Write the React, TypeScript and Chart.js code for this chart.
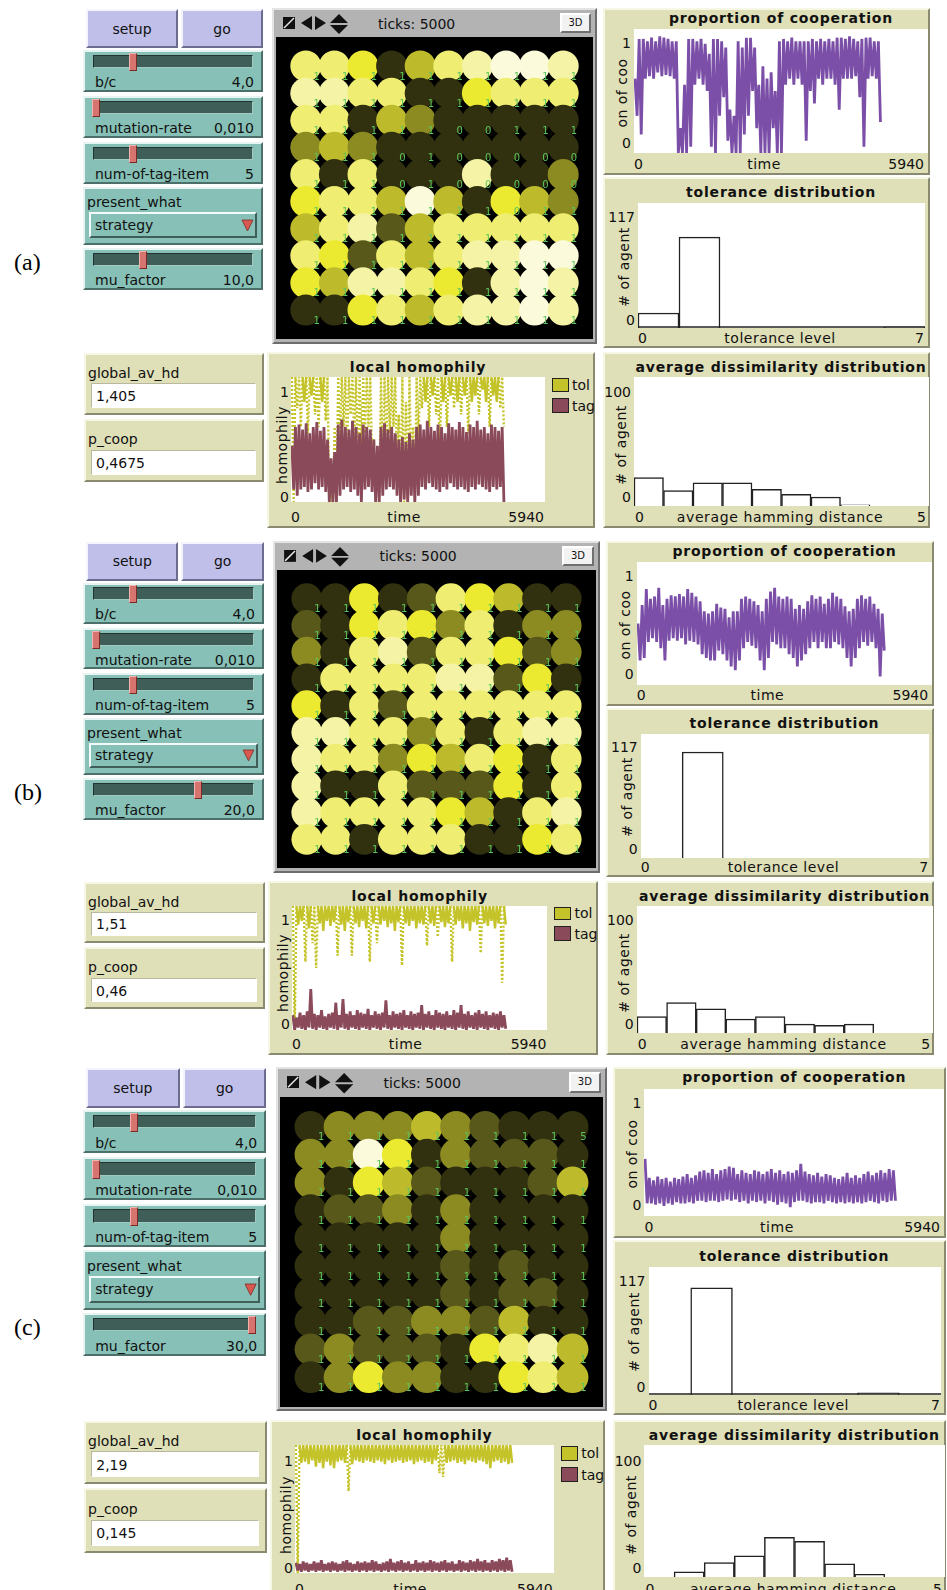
import React, { useEffect, useRef } from "react";
import { Chart, registerables } from "chart.js";
Chart.register(...registerables);

// ---------------- data ----------------
const TOL_BINS = ["0", "1", "2", "3", "4", "5", "6"];
const HD_BINS = ["0", "0.5", "1", "1.5", "2", "2.5", "3", "3.5", "4", "4.5"];
const TICKS_RUN = 5000;
const X_MAX = 5940;
const TOL_MAX = 117;
const HD_MAX = 100;

const tolHistA = [14, 85, 0, 0, 0, 0, 1];
const tolHistB = [0, 100, 0, 0, 0, 0, 0];
const tolHistC = [0, 98, 0, 0, 0, 2, 0];

const hdHistA = [22, 12, 18, 18, 13, 9, 7, 1, 0, 0];
const hdHistB = [13, 24, 19, 11, 13, 7, 6, 7, 0, 0];
const hdHistC = [0, 4, 11, 16, 30, 27, 10, 2, 0, 0];

// proportion of cooperation: per-bin high / low envelope (60 bins over 5000 ticks)
const coopA_hi = [0.6, 0.92, 0.92, 0.9, 0.93, 0.9, 0.94, 0.93, 0.92, 0.9, 0.9, 0.2, 0.55, 0.92, 0.92, 0.9, 0.92, 0.88, 0.8, 0.92, 0.92, 0.9, 0.85, 0.35, 0.3, 0.9, 0.85, 0.93, 0.93, 0.85, 0.55, 0.7, 0.6, 0.65, 0.5, 0.9, 0.92, 0.9, 0.93, 0.9, 0.9, 0.9, 0.9, 0.92, 0.9, 0.92, 0.9, 0.92, 0.9, 0.93, 0.93, 0.92, 0.94, 0.92, 0.9, 0.92, 0.93, 0.93, 0.9, 0.9];
const coopA_lo = [0.3, 0.15, 0.6, 0.62, 0.6, 0.65, 0.62, 0.63, 0.62, 0.6, 0, 0, 0, 0.05, 0.55, 0.6, 0.55, 0.5, 0.05, 0, 0.3, 0.45, 0.1, 0, 0, 0, 0.15, 0.3, 0.5, 0.2, 0, 0, 0, 0.2, 0, 0, 0.55, 0.6, 0.55, 0.6, 0.55, 0.1, 0.5, 0.4, 0.6, 0.55, 0.6, 0.6, 0.55, 0.35, 0.6, 0.6, 0.6, 0.62, 0.45, 0.05, 0.6, 0.62, 0.6, 0.25];
const coopB_hi = [0.5, 0.65, 0.78, 0.7, 0.72, 0.79, 0.65, 0.7, 0.73, 0.72, 0.74, 0.72, 0.78, 0.75, 0.72, 0.68, 0.6, 0.58, 0.6, 0.66, 0.63, 0.62, 0.55, 0.6, 0.6, 0.7, 0.72, 0.7, 0.68, 0.65, 0.6, 0.7, 0.76, 0.79, 0.72, 0.7, 0.72, 0.7, 0.62, 0.65, 0.62, 0.68, 0.73, 0.7, 0.72, 0.66, 0.7, 0.75, 0.72, 0.7, 0.64, 0.6, 0.62, 0.7, 0.73, 0.7, 0.72, 0.66, 0.62, 0.58];
const coopB_lo = [0.2, 0.22, 0.35, 0.38, 0.35, 0.3, 0.2, 0.36, 0.38, 0.36, 0.38, 0.33, 0.36, 0.35, 0.33, 0.25, 0.22, 0.2, 0.2, 0.28, 0.25, 0.2, 0.15, 0.12, 0.2, 0.3, 0.35, 0.32, 0.3, 0.2, 0.12, 0.22, 0.35, 0.33, 0.3, 0.3, 0.25, 0.22, 0.15, 0.2, 0.25, 0.3, 0.35, 0.3, 0.35, 0.3, 0.3, 0.35, 0.33, 0.3, 0.22, 0.15, 0.22, 0.3, 0.35, 0.32, 0.35, 0.3, 0.07, 0.28];
const coopC_hi = [0.45, 0.3, 0.28, 0.31, 0.29, 0.3, 0.27, 0.3, 0.29, 0.31, 0.33, 0.3, 0.32, 0.35, 0.36, 0.34, 0.37, 0.33, 0.36, 0.37, 0.39, 0.38, 0.33, 0.36, 0.34, 0.33, 0.36, 0.35, 0.33, 0.35, 0.37, 0.34, 0.36, 0.33, 0.35, 0.34, 0.36, 0.41, 0.35, 0.33, 0.32, 0.34, 0.31, 0.33, 0.32, 0.3, 0.29, 0.31, 0.34, 0.3, 0.32, 0.3, 0.33, 0.35, 0.32, 0.34, 0.36, 0.34, 0.37, 0.36];
const coopC_lo = [0.1, 0.1, 0.09, 0.1, 0.08, 0.1, 0.09, 0.11, 0.1, 0.1, 0.11, 0.1, 0.12, 0.12, 0.11, 0.12, 0.12, 0.11, 0.12, 0.13, 0.12, 0.13, 0.11, 0.12, 0.1, 0.12, 0.11, 0.12, 0.1, 0.12, 0.11, 0.09, 0.11, 0.1, 0.07, 0.11, 0.12, 0.12, 0.11, 0.1, 0.11, 0.11, 0.1, 0.12, 0.11, 0.1, 0.11, 0.1, 0.11, 0.1, 0.11, 0.1, 0.11, 0.12, 0.11, 0.1, 0.12, 0.11, 0.12, 0.12];

// local homophily: tol / tag envelopes (60 bins)
const tolA_hi = [1, 1, 1, 1, 1, 1, 1, 1, 1, 1, 1, 0.2, 0.6, 1, 1, 1, 1, 1, 1, 1, 1, 1, 1, 0.5, 0.4, 1, 1, 1, 1, 1, 0.7, 1, 0.8, 1, 0.6, 1, 1, 1, 1, 1, 1, 1, 1, 1, 1, 1, 1, 1, 1, 1, 1, 1, 1, 1, 1, 1, 1, 1, 1, 1];
const tolA_lo = [0, 0.75, 0.6, 0.8, 0.55, 0.85, 0.7, 0.6, 0.8, 0.65, 0, 0, 0, 0.5, 0.6, 0.45, 0.7, 0.5, 0.3, 0.4, 0.55, 0.6, 0.35, 0, 0, 0.2, 0.4, 0.55, 0.6, 0.3, 0, 0, 0.1, 0.2, 0, 0.5, 0.75, 0.8, 0.6, 0.85, 0.7, 0.4, 0.8, 0.6, 0.85, 0.75, 0.8, 0.7, 0.85, 0.55, 0.8, 0.85, 0.7, 0.9, 0.8, 0.6, 0.85, 0.8, 0.75, 0.6];
const tagA_hi = [0.45, 0.6, 0.62, 0.58, 0.63, 0.55, 0.6, 0.64, 0.57, 0.6, 0.5, 0.35, 0.4, 0.62, 0.66, 0.6, 0.58, 0.65, 0.6, 0.55, 0.62, 0.6, 0.58, 0.5, 0.45, 0.6, 0.63, 0.58, 0.6, 0.55, 0.5, 0.52, 0.48, 0.55, 0.5, 0.6, 0.62, 0.58, 0.65, 0.6, 0.57, 0.62, 0.6, 0.55, 0.63, 0.6, 0.58, 0.64, 0.6, 0.56, 0.62, 0.6, 0.65, 0.58, 0.6, 0.55, 0.62, 0.6, 0.57, 0.6];
const tagA_lo = [0.1, 0.05, 0.1, 0.12, 0.08, 0.1, 0.15, 0.1, 0.12, 0.08, 0, 0, 0, 0.05, 0.1, 0.12, 0.08, 0.1, 0.05, 0, 0.1, 0.12, 0.08, 0, 0, 0.05, 0.1, 0.12, 0.1, 0.05, 0, 0.02, 0, 0.05, 0, 0.05, 0.12, 0.1, 0.15, 0.12, 0.1, 0.08, 0.12, 0.1, 0.15, 0.12, 0.1, 0.12, 0.1, 0.08, 0.12, 0.1, 0.14, 0.12, 0.1, 0.08, 0.12, 0.1, 0.12, 0];
const tolB_hi = [1, 1, 1, 1, 1, 1, 1, 1, 1, 1, 1, 1, 1, 1, 1, 1, 1, 1, 1, 1, 1, 1, 1, 1, 1, 1, 1, 1, 1, 1, 1, 1, 1, 1, 1, 1, 1, 1, 1, 1, 1, 1, 1, 1, 1, 1, 1, 1, 1, 1, 1, 1, 1, 1, 1, 1, 1, 1, 1, 1];
const tolB_lo = [0, 0.85, 0.88, 0.55, 0.82, 0.7, 0.5, 0.86, 0.8, 0.88, 0.84, 0.87, 0.6, 0.85, 0.8, 0.87, 0.6, 0.86, 0.83, 0.88, 0.82, 0.55, 0.86, 0.7, 0.85, 0.88, 0.83, 0.86, 0.8, 0.87, 0.52, 0.86, 0.84, 0.88, 0.82, 0.86, 0.85, 0.68, 0.86, 0.84, 0.75, 0.87, 0.83, 0.86, 0.55, 0.85, 0.88, 0.82, 0.86, 0.8, 0.87, 0.85, 0.62, 0.86, 0.84, 0.88, 0.82, 0.86, 0.38, 0.85];
const tagB_hi = [0.12, 0.1, 0.14, 0.12, 0.15, 0.33, 0.13, 0.12, 0.16, 0.11, 0.13, 0.14, 0.22, 0.12, 0.25, 0.13, 0.15, 0.12, 0.16, 0.14, 0.13, 0.17, 0.12, 0.15, 0.13, 0.14, 0.24, 0.12, 0.15, 0.13, 0.14, 0.16, 0.12, 0.15, 0.13, 0.14, 0.2, 0.13, 0.15, 0.12, 0.16, 0.14, 0.13, 0.15, 0.12, 0.16, 0.14, 0.2, 0.13, 0.15, 0.12, 0.14, 0.16, 0.13, 0.15, 0.12, 0.14, 0.13, 0.15, 0.12];
const tagB_lo = [0, 0.02, 0.01, 0, 0.02, 0.01, 0, 0.02, 0.01, 0, 0.02, 0.01, 0, 0.02, 0.01, 0, 0.02, 0.01, 0, 0.02, 0.01, 0, 0.02, 0.01, 0, 0.02, 0.01, 0, 0.02, 0.01, 0, 0.02, 0.01, 0, 0.02, 0.01, 0, 0.02, 0.01, 0, 0.02, 0.01, 0, 0.02, 0.01, 0, 0.02, 0.01, 0, 0.02, 0.01, 0, 0.02, 0.01, 0, 0.02, 0.01, 0, 0.02, 0.01];
const tolC_hi = [1, 1, 1, 1, 1, 1, 1, 1, 1, 1, 1, 1, 1, 1, 1, 1, 1, 1, 1, 1, 1, 1, 1, 1, 1, 1, 1, 1, 1, 1, 1, 1, 1, 1, 1, 1, 1, 1, 1, 1, 1, 1, 1, 1, 1, 1, 1, 1, 1, 1, 1, 1, 1, 1, 1, 1, 1, 1, 1, 1];
const tolC_lo = [0, 0.86, 0.87, 0.85, 0.88, 0.83, 0.86, 0.82, 0.87, 0.84, 0.82, 0.87, 0.88, 0.86, 0.64, 0.85, 0.88, 0.87, 0.86, 0.88, 0.87, 0.86, 0.88, 0.87, 0.85, 0.88, 0.86, 0.87, 0.88, 0.86, 0.87, 0.88, 0.85, 0.87, 0.88, 0.86, 0.87, 0.85, 0.88, 0.78, 0.75, 0.86, 0.87, 0.88, 0.86, 0.87, 0.85, 0.88, 0.87, 0.86, 0.88, 0.87, 0.85, 0.82, 0.87, 0.88, 0.86, 0.87, 0.85, 0.86];
const tagC_hi = [0.08, 0.07, 0.09, 0.08, 0.07, 0.09, 0.08, 0.1, 0.07, 0.08, 0.09, 0.08, 0.07, 0.09, 0.1, 0.08, 0.07, 0.09, 0.08, 0.09, 0.08, 0.1, 0.09, 0.07, 0.08, 0.09, 0.11, 0.08, 0.09, 0.1, 0.08, 0.09, 0.07, 0.1, 0.08, 0.09, 0.08, 0.1, 0.09, 0.08, 0.09, 0.1, 0.08, 0.09, 0.07, 0.1, 0.09, 0.08, 0.1, 0.09, 0.11, 0.09, 0.1, 0.08, 0.1, 0.09, 0.11, 0.1, 0.12, 0.1];
const tagC_lo = [0.02, 0.01, 0.02, 0.01, 0.02, 0.01, 0.02, 0.01, 0.02, 0.01, 0.02, 0.01, 0.02, 0.01, 0.02, 0.01, 0.02, 0.01, 0.02, 0.01, 0.02, 0.01, 0.02, 0.01, 0.02, 0.01, 0.02, 0.01, 0.02, 0.01, 0.02, 0.01, 0.02, 0.01, 0.02, 0.01, 0.02, 0.01, 0.02, 0.01, 0.02, 0.01, 0.02, 0.01, 0.02, 0.01, 0.02, 0.01, 0.02, 0.01, 0.02, 0.01, 0.02, 0.01, 0.02, 0.01, 0.02, 0.01, 0.02, 0.01];

// world: brightness level of each patch (0 dark .. 7 near white), row by row
const gridA = ["5540356776", "6655004555", "5503200000", "2320000000", "5050006002", "4553730432", "3561355555", "5415356677", "4366540676", "0045356676"];
const gridB = ["0040154300", "1045425022", "2056155412", "0555566140", "4051555555", "6655250566", "6552435405", "6005111405", "6555543056", "5505550045"];
const gridC = ["0222321000", "2274021110", "2043100013", "0112020000", "0000020000", "0000010100", "0000010110", "0011221300", "1211104563", "0242200453"];
const labelsA = ["1111111111", "1111111111", "1111100111", "1110100000", "1110100000", "1111111011", "1111111111", "1111111111", "1111111111", "1111111111"];
const labelsB = ["1111111111", "1111111111", "1111111111", "1111111111", "1111111111", "1111111111", "1111111111", "1111111111", "1111111111", "1111111111"];
const labelsC = ["1111111115", "1111111111", "1111111111", "1111111111", "1111111111", "1111111111", "1111111111", "1111111111", "1111111111", "1111111111"];

// ---------------- styles ----------------
const LEVELS = ["#313110", "#58581b", "#8c8b22", "#bdbb2c", "#ebea31", "#efee72", "#f5f4a6", "#fbfbdc"];
const PURPLE = "#7b4fa7";
const TOL_C = "#c5c32a";
const TAG_C = "#8a4a5a";
const PLOT_BG = "#dfdfb8";
const SLIDER_BG = "#86c0b6";
const BTN_BG = "#bfbfe9";
const TRACK = "#3f5e58";
const THUMB = "#d6756f";
const SANS = '"DejaVu Sans", sans-serif';

function zigzag(hi, lo) {
  const w = TICKS_RUN / hi.length;
  const pts = [];
  hi.forEach((h, i) => {
    pts.push({ x: (i + 0.25) * w, y: h });
    pts.push({ x: (i + 0.75) * w, y: lo[i] });
  });
  return pts;
}

const baseOpts = {
  animation: false,
  responsive: false,
  devicePixelRatio: 1,
  events: [],
  layout: { padding: 0 },
};
const noPlugins = { legend: { display: false }, tooltip: { enabled: false }, title: { display: false } };

function lineConfig(datasets, ymax) {
  return {
    type: "line",
    data: { datasets },
    options: {
      ...baseOpts,
      plugins: noPlugins,
      scales: {
        x: { type: "linear", min: 0, max: X_MAX, display: false },
        y: { type: "linear", min: 0, max: ymax, display: false },
      },
    },
  };
}

const baselinePlugin = {
  id: "baseline",
  afterDatasetsDraw(chart, args, opts) {
    if (!opts || !opts.show) return;
    const { ctx, chartArea } = chart;
    ctx.save();
    ctx.strokeStyle = "#222";
    ctx.lineWidth = 1.5;
    ctx.beginPath();
    ctx.moveTo(chartArea.left, chartArea.bottom - 1);
    ctx.lineTo(chartArea.right, chartArea.bottom - 1);
    ctx.stroke();
    ctx.restore();
  },
};

function histConfig(labels, values, ymax, baseline) {
  return {
    type: "bar",
    data: {
      labels,
      datasets: [
        {
          data: values,
          backgroundColor: "#ffffff",
          borderColor: "#222222",
          borderWidth: 1.5,
          borderSkipped: "bottom",
          barPercentage: 1,
          categoryPercentage: 1,
        },
      ],
    },
    options: {
      ...baseOpts,
      plugins: { ...noPlugins, baseline: { show: baseline } },
      scales: {
        x: { display: false },
        y: { min: 0, max: ymax, display: false },
      },
    },
    plugins: [baselinePlugin],
  };
}

const turtleLabelPlugin = {
  id: "turtleLabels",
  afterDatasetsDraw(chart, args, opts) {
    const ctx = chart.ctx;
    const meta = chart.getDatasetMeta(0);
    ctx.save();
    ctx.font = '10px "DejaVu Sans"';
    ctx.fillStyle = "#5cc65c";
    ctx.textAlign = "right";
    ctx.textBaseline = "bottom";
    meta.data.forEach((el, i) => {
      ctx.fillText(opts.labels[i], el.x + 14, el.y + 16);
    });
    ctx.restore();
  },
};

function worldConfig(grid, labels, w, h) {
  const pts = [];
  const cols = [];
  const labs = [];
  grid.forEach((row, r) =>
    row.split("").forEach((c, ci) => {
      pts.push({ x: ci, y: r });
      cols.push(LEVELS[Number(c)]);
      labs.push(labels[r][ci]);
    })
  );
  const rad = Math.min(w, h) / 20 + 0.4;
  return {
    type: "scatter",
    data: {
      datasets: [
        {
          data: pts,
          pointBackgroundColor: cols,
          pointBorderColor: cols,
          pointBorderWidth: 0,
          pointRadius: rad,
          pointHoverRadius: rad,
          clip: false,
        },
      ],
    },
    options: {
      ...baseOpts,
      plugins: { ...noPlugins, turtleLabels: { labels: labs } },
      scales: {
        x: { type: "linear", min: -0.5, max: 9.5, display: false },
        y: { type: "linear", min: -0.5, max: 9.5, reverse: true, display: false },
      },
    },
    plugins: [turtleLabelPlugin],
  };
}

// ---------------- panels ----------------
const PANELS = [
  {
    tag: "(a)", top: 9, sx: 1, sy: 1, mu: "10,0", muFrac: 0.31, hd: "1,405", pc: "0,4675",
    grid: gridA, labels: labelsA, coopHi: coopA_hi, coopLo: coopA_lo,
    tolHi: tolA_hi, tolLo: tolA_lo, tagHi: tagA_hi, tagLo: tagA_lo,
    tolHist: tolHistA, hdHist: hdHistA, baseline: true,
  },
  {
    tag: "(b)", top: 542, sx: 1.005, sy: 0.988, mu: "20,0", muFrac: 0.66, hd: "1,51", pc: "0,46",
    grid: gridB, labels: labelsB, coopHi: coopB_hi, coopLo: coopB_lo,
    tolHi: tolB_hi, tolLo: tolB_lo, tagHi: tagB_hi, tagLo: tagB_lo,
    tolHist: tolHistB, hdHist: hdHistB, baseline: false,
  },
  {
    tag: "(c)", top: 1068, sx: 1.019, sy: 1.025, mu: "30,0", muFrac: 1, hd: "2,19", pc: "0,145",
    grid: gridC, labels: labelsC, coopHi: coopC_hi, coopLo: coopC_lo,
    tolHi: tolC_hi, tolLo: tolC_lo, tagHi: tagC_hi, tagLo: tagC_lo,
    tolHist: tolHistC, hdHist: hdHistC, baseline: true,
  },
];

function ChartCanvas({ style, w, h, make, bg }) {
  const ref = useRef(null);
  useEffect(() => {
    const c = new Chart(ref.current, make());
    return () => c.destroy();
  }, []);
  return (
    <canvas
      ref={ref}
      width={w}
      height={h}
      style={{ ...style, width: w, height: h, background: bg, display: "block" }}
    />
  );
}

const raised = (light, dark, bw = 2) => ({
  borderStyle: "solid",
  borderWidth: bw,
  borderColor: `${light} ${dark} ${dark} ${light}`,
  boxSizing: "border-box",
});

function PanelView({ p }) {
  const X = (x) => 83 + (x - 83) * p.sx;
  const Y = (y) => p.top + (y - 9) * p.sy;
  const box = (x, y, w, h) => ({
    position: "absolute",
    left: X(x),
    top: Y(y),
    width: w * p.sx,
    height: h * p.sy,
  });
  const txt = (s, x, y, w, h, align, extra = {}) => (
    <div
      style={{
        ...box(x, y, w, h),
        display: "flex",
        alignItems: "center",
        justifyContent: align === "left" ? "flex-start" : align === "right" ? "flex-end" : "center",
        font: `14px ${SANS}`,
        color: "#111",
        whiteSpace: "nowrap",
        lineHeight: 1,
        ...extra,
      }}
    >
      {s}
    </div>
  );
  const rot = (s, cx, cy) => (
    <div
      style={{
        position: "absolute",
        left: X(cx),
        top: Y(cy),
        transform: "translate(-50%, -50%) rotate(-90deg)",
        font: `14px ${SANS}`,
        letterSpacing: 0.5,
        color: "#111",
        whiteSpace: "nowrap",
        lineHeight: 1,
      }}
    >
      {s}
    </div>
  );
  const slider = (y, label, value, frac) => (
    <React.Fragment key={label}>
      <div style={{ ...box(83, y, 180, 42), background: SLIDER_BG, ...raised("#e8f4f1", "#4d6f69") }} />
      <div style={{ ...box(93, y + 5, 160, 13), background: TRACK, ...raised("#22332f", "#9fc9c1", 1) }} />
      <div
        style={{
          ...box(92 + frac * 153, y + 3, 8, 18),
          background: THUMB,
          ...raised("#f3b3ae", "#7a2b27", 1),
        }}
      />
      {txt(label, 95, y + 24, 120, 16, "left")}
      {txt(value, 170, y + 24, 84, 16, "right")}
    </React.Fragment>
  );
  const plotFrame = (x, y, w, h) => (
    <div style={{ ...box(x, y, w, h), background: PLOT_BG, ...raised("#f7f7e6", "#8a8a70") }} />
  );
  const title = (s, cx, cy) =>
    txt(s, cx - 150, cy - 9, 300, 18, "center", { font: `bold 14px ${SANS}`, letterSpacing: 0.8 });
  const cw = (w) => Math.round(w * p.sx);
  const ch = (h) => Math.round(h * p.sy);
  const canvasAt = (x, y) => ({ position: "absolute", left: Math.round(X(x)), top: Math.round(Y(y)) });
  const lineStyle = { pointRadius: 0, tension: 0, borderJoinStyle: "bevel" };

  return (
    <>
      {/* panel letter */}
      <div
        style={{
          position: "absolute",
          left: 14,
          top: Y(263) - 14,
          font: '24px "Liberation Serif", serif',
          color: "#000",
        }}
      >
        {p.tag}
      </div>

      {/* buttons */}
      <div style={{ ...box(86, 9, 92, 39), background: BTN_BG, ...raised("#f4f4ff", "#6c6c90") }} />
      {txt("setup", 86, 9, 92, 39, "center")}
      <div style={{ ...box(181, 9, 82, 39), background: BTN_BG, ...raised("#f4f4ff", "#6c6c90") }} />
      {txt("go", 181, 9, 82, 39, "center")}

      {slider(50, "b/c", "4,0", 0.24)}
      {slider(96, "mutation-rate", "0,010", 0)}
      {slider(142, "num-of-tag-item", "5", 0.24)}

      {/* chooser */}
      <div style={{ ...box(83, 187, 180, 58), background: SLIDER_BG, ...raised("#e8f4f1", "#4d6f69") }} />
      {txt("present_what", 87, 194, 150, 16, "left")}
      <div style={{ ...box(89, 212, 168, 26), background: SLIDER_BG, ...raised("#f2fbf9", "#3f5e58") }} />
      {txt("strategy", 95, 214, 120, 22, "left")}
      <svg style={{ ...box(242, 220, 11, 11), overflow: "visible" }} viewBox="0 0 11 11">
        <polygon points="0,0 11,0 5.5,11" fill="#d9584f" stroke="#7a2b27" strokeWidth="0.8" />
      </svg>

      {slider(248, "mu_factor", p.mu, p.muFrac)}

      {/* monitors */}
      <div style={{ ...box(84, 353, 180, 62), background: PLOT_BG, ...raised("#f7f7e6", "#8a8a70") }} />
      <div style={{ ...box(91, 383, 165, 25), background: "#fff", ...raised("#b8b8a0", "#ffffff", 1) }} />
      {txt("global_av_hd", 88, 365, 150, 16, "left")}
      {txt(p.hd, 96, 385, 120, 22, "left")}
      <div style={{ ...box(84, 419, 180, 63), background: PLOT_BG, ...raised("#f7f7e6", "#8a8a70") }} />
      <div style={{ ...box(91, 450, 165, 25), background: "#fff", ...raised("#b8b8a0", "#ffffff", 1) }} />
      {txt("p_coop", 88, 431, 150, 16, "left")}
      {txt(p.pc, 96, 452, 120, 22, "left")}

      {/* world view */}
      <div style={{ ...box(272, 8, 325, 336), background: "#b3b3b3", ...raised("#e4e4e4", "#6d6d6d", 2) }} />
      <svg style={box(283, 17, 12, 12)} viewBox="0 0 12 12">
        <rect x="0" y="0" width="12" height="12" fill="#111" />
        <line x1="1" y1="11" x2="11" y2="1" stroke="#e8e8e8" strokeWidth="1.5" />
      </svg>
      <svg style={box(301, 16, 25, 14)} viewBox="0 0 25 14">
        <polygon points="0,7 11,0 11,14" fill="#111" />
        <polygon points="25,7 14,0 14,14" fill="#111" />
      </svg>
      <svg style={box(330, 14, 18, 20)} viewBox="0 0 18 20">
        <polygon points="9,0 0,9 18,9" fill="#111" />
        <polygon points="9,20 0,11 18,11" fill="#111" />
      </svg>
      {txt("ticks: 5000", 378, 15, 100, 17, "left")}
      <div style={{ ...box(560, 13, 31, 20), background: "#f2f2f2", ...raised("#ffffff", "#707070", 2) }} />
      {txt("3D", 560, 13, 31, 20, "center", { font: `10px ${SANS}` })}
      <ChartCanvas
        style={canvasAt(276, 37)}
        w={cw(317)}
        h={ch(302)}
        bg="#000"
        make={() => worldConfig(p.grid, p.labels, cw(317), ch(302))}
      />

      {/* proportion of cooperation */}
      {plotFrame(603, 8, 327, 167)}
      {title("proportion of cooperation", 781, 18)}
      <ChartCanvas
        style={canvasAt(634, 29)}
        w={cw(294)}
        h={ch(124)}
        bg="#fff"
        make={() =>
          lineConfig([{ data: zigzag(p.coopHi, p.coopLo), borderColor: PURPLE, borderWidth: 2.8, ...lineStyle }], 1)
        }
      />
      {txt("1", 611, 35, 20, 16, "right")}
      {txt("0", 611, 135, 20, 16, "right")}
      {rot("on of coo", 622, 93)}
      {txt("0", 634, 156, 30, 16, "left")}
      {txt("time", 714, 156, 100, 16, "center", { letterSpacing: 0.5 })}
      {txt("5940", 864, 156, 60, 16, "right")}

      {/* tolerance distribution */}
      {plotFrame(603, 177, 327, 171)}
      {title("tolerance distribution", 781, 192)}
      <ChartCanvas
        style={canvasAt(638, 203)}
        w={cw(287)}
        h={ch(125)}
        bg="#fff"
        make={() => histConfig(TOL_BINS, p.tolHist, TOL_MAX, p.baseline)}
      />
      {txt("117", 600, 209, 35, 16, "right")}
      {txt("0", 600, 312, 35, 16, "right")}
      {rot("# of agent", 624, 267)}
      {txt("0", 638, 330, 30, 16, "left")}
      {txt("tolerance level", 700, 330, 160, 16, "center", { letterSpacing: 0.5 })}
      {txt("7", 880, 330, 44, 16, "right")}

      {/* local homophily */}
      {plotFrame(267, 352, 328, 176)}
      {title("local homophily", 418, 367)}
      <ChartCanvas
        style={canvasAt(291, 377)}
        w={cw(254)}
        h={ch(125)}
        bg="#fff"
        make={() =>
          lineConfig(
            [
              { data: zigzag(p.tagHi, p.tagLo), borderColor: TAG_C, borderWidth: 2.8, ...lineStyle },
              {
                data: zigzag(p.tolHi, p.tolLo),
                borderColor: TOL_C,
                borderWidth: 2.4,
                ...lineStyle,
                segment: {
                  borderDash: (ctx) =>
                    Math.abs(ctx.p0.parsed.y - ctx.p1.parsed.y) > 0.2 ? [2, 2] : undefined,
                },
              },
            ],
            1
          )
        }
      />
      {txt("1", 268, 384, 21, 16, "right")}
      {txt("0", 268, 489, 21, 16, "right")}
      {rot("homophily", 282, 445)}
      {txt("0", 291, 509, 30, 16, "left")}
      {txt("time", 354, 509, 100, 16, "center", { letterSpacing: 0.5 })}
      {txt("5940", 484, 509, 60, 16, "right")}
      <div style={{ ...box(552, 378, 17, 14), background: TOL_C, border: "1px solid #222", boxSizing: "border-box" }} />
      {txt("tol", 572, 377, 30, 16, "left")}
      <div style={{ ...box(552, 398, 17, 15), background: TAG_C, border: "1px solid #222", boxSizing: "border-box" }} />
      {txt("tag", 572, 398, 30, 16, "left")}

      {/* average dissimilarity distribution */}
      {plotFrame(603, 352, 327, 176)}
      {title("average dissimilarity distribution", 781, 367)}
      <ChartCanvas
        style={canvasAt(634, 377)}
        w={cw(295)}
        h={ch(129)}
        bg="#fff"
        make={() => histConfig(HD_BINS, p.hdHist, HD_MAX, false)}
      />
      {txt("100", 595, 384, 36, 16, "right")}
      {txt("0", 595, 489, 36, 16, "right")}
      {rot("# of agent", 621, 445)}
      {txt("0", 635, 509, 30, 16, "left")}
      {txt("average hamming distance", 680, 509, 200, 16, "center", { letterSpacing: 0.6 })}
      {txt("5", 880, 509, 46, 16, "right")}
    </>
  );
}

export default function App() {
  return (
    <div
      style={{
        position: "absolute",
        left: 0,
        top: 0,
        width: 947,
        height: 1590,
        overflow: "hidden",
        background: "#fff",
      }}
    >
      {PANELS.map((p) => (
        <PanelView key={p.tag} p={p} />
      ))}
    </div>
  );
}
